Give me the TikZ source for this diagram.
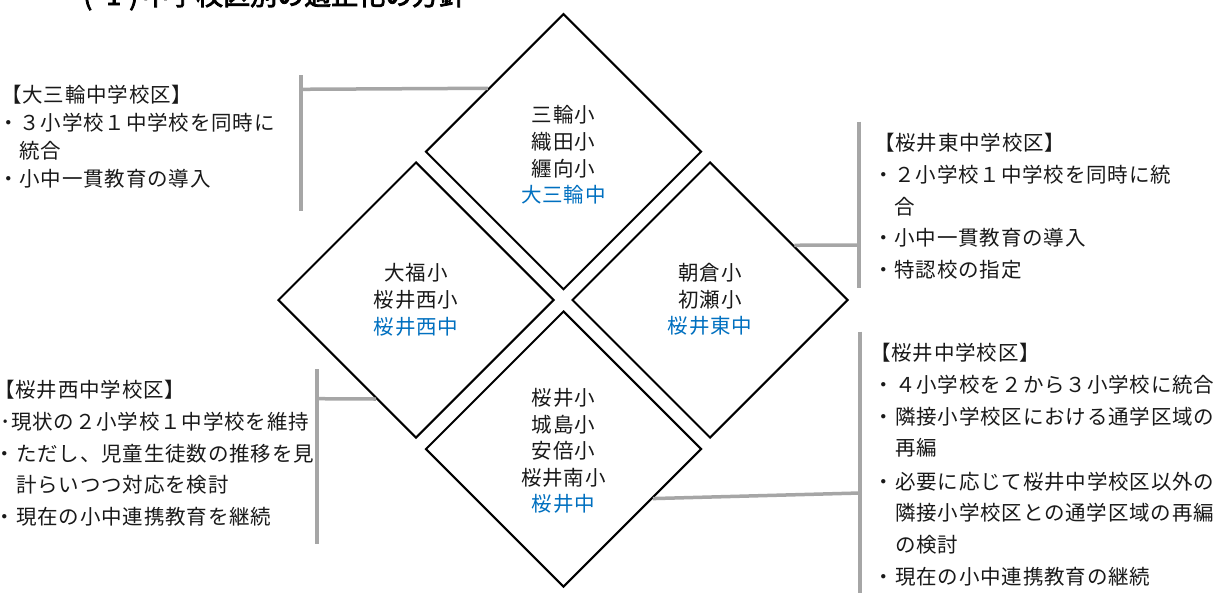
\documentclass[tikz,border=0pt]{standalone}
\usepackage{fontspec}
\usetikzlibrary{shapes.geometric}
\newfontfamily\jp[LetterSpace=4]{Noto Sans CJK JP}
\newfontfamily\jptitle[FakeBold=3]{Noto Sans CJK JP}
\definecolor{schblue}{RGB}{0,112,192}
\definecolor{conngray}{RGB}{166,166,166}
\definecolor{txt}{RGB}{25,25,25}
\begin{document}
\begin{tikzpicture}[x=1pt,y=-1pt,
  dia/.style={draw=black, line width=2pt, shape=diamond, minimum width=276pt, minimum height=276pt, inner sep=0pt},
  lab/.style={font=\jp\fontsize{20.5}{20.5}\selectfont, text=txt, inner sep=0pt, anchor=base},
  jh/.style={lab, text=schblue},
  ln/.style={font=\jp\fontsize{20.5}{20.5}\selectfont, text=txt, inner sep=0pt, anchor=base west},
  conn/.style={draw=conngray, line width=3.5pt},
  bar/.style={draw=conngray, line width=4pt},
]
\fill[white] (0,0) rectangle (1216,592);
\useasboundingbox (0,0) rectangle (1216,592);

% title (cut off at top)
\node[anchor=base west, font=\jptitle\fontsize{27}{27}\selectfont, text=black, inner sep=0pt] (title) at (83,5) {\makebox[23pt][l]{(}\makebox[23pt][l]{1}\makebox[13pt][l]{)}中学校区別の適正化の方針};

% diamonds
\node[dia] (dtop) at (563.5,151.7) {};
\node[dia] (dleft) at (416,300) {};
\node[dia] (dright) at (710,300) {};
\node[dia] (dbot) at (563.5,449) {};

% diamond labels
\node[lab] (t1) at (563.5,122.7) {三輪小};
\node[lab] (t2) at (563.5,149.5) {織田小};
\node[lab] (t3) at (563.5,176) {纒向小};
\node[jh]  (t4) at (563.5,202.7) {大三輪中};

\node[lab] (l1) at (416,280.7) {大福小};
\node[lab] (l2) at (416,307.7) {桜井西小};
\node[jh]  (l3) at (416,334.7) {桜井西中};

\node[lab] (r1) at (710,280.7) {朝倉小};
\node[lab] (r2) at (710,307.7) {初瀬小};
\node[jh]  (r3) at (710,333.7) {桜井東中};

\node[lab] (b1) at (563.5,405.7) {桜井小};
\node[lab] (b2) at (563.5,432.4) {城島小};
\node[lab] (b3) at (563.5,458.7) {安倍小};
\node[lab] (b4) at (563.5,485.7) {桜井南小};
\node[jh]  (b5) at (563.5,511.4) {桜井中};

% connectors
\coordinate (tlA) at (300.7,75);
\coordinate (tlB) at (300.7,210.7);
\coordinate (tlJ) at (300.7,89.3);
\draw[bar] (tlA) -- (tlB);
\draw[conn] (tlJ) -- (dtop.140.5);

\coordinate (trA) at (859.3,121.7);
\coordinate (trB) at (859.3,288.3);
\coordinate (trJ) at (859.3,245);
\draw[bar] (trA) -- (trB);
\draw[conn] (trJ) -- (dright.33.75);

\coordinate (blA) at (316.7,369);
\coordinate (blB) at (316.7,543.7);
\coordinate (blJ) at (316.7,398.7);
\draw[bar] (blA) -- (blB);
\draw[conn] (blJ) -- (dleft.248.3);

\coordinate (brA) at (860,331.7);
\coordinate (brB) at (860,594);
\coordinate (brJ) at (860,493);
\draw[bar] (brA) -- (brB);
\draw[conn] (brJ) -- (dbot.331.4);

% text blocks
\node[ln] (tl1) at (1,102.7) {【大三輪中学校区】};
\node[ln] (tl2) at (-2,130.7) {・３小学校１中学校を同時に};
\node[ln] (tl3) at (-2,158.7) {　統合};
\node[ln] (tl4) at (-2,186.7) {・小中一貫教育の導入};

\node[ln] (tr1) at (874,150.7) {【桜井東中学校区】};
\node[ln] (tr2) at (873,182.7) {・２小学校１中学校を同時に統};
\node[ln] (tr3) at (873,214.7) {　合};
\node[ln] (tr4) at (873,245.7) {・小中一貫教育の導入};
\node[ln] (tr5) at (873,277.7) {・特認校の指定};

\node[ln] (bl1) at (-6,397.7) {【桜井西中学校区】};
\node[ln] (bl2) at (0,429.4) {･現状の２小学校１中学校を維持};
\node[ln] (bl3) at (-5.3,461.7) {・ただし、児童生徒数の推移を見};
\node[ln] (bl4) at (-5.3,492.7) {　計らいつつ対応を検討};
\node[ln] (bl5) at (-5.3,524.4) {・現在の小中連携教育を継続};

\node[ln] (br1) at (870,360.7) {【桜井中学校区】};
\node[ln] (br2) at (873.7,392.7) {・４小学校を２から３小学校に統合};
\node[ln] (br3) at (873.7,424.4) {・隣接小学校区における通学区域の};
\node[ln] (br4) at (873.7,455.7) {　再編};
\node[ln] (br5) at (873.7,489.4) {・必要に応じて桜井中学校区以外の};
\node[ln] (br6) at (873.7,520.7) {　隣接小学校区との通学区域の再編};
\node[ln] (br7) at (873.7,552.7) {　の検討};
\node[ln] (br8) at (873.7,584.4) {・現在の小中連携教育の継続};
\end{tikzpicture}
\end{document}
